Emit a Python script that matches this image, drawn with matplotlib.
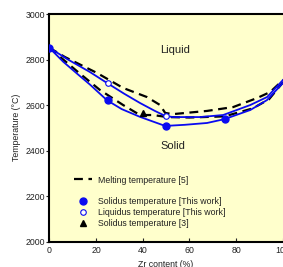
import numpy as np
import matplotlib
matplotlib.use("Agg")
import matplotlib.pyplot as plt
from matplotlib.lines import Line2D

plt.rcParams["font.family"] = ["Liberation Sans", "DejaVu Sans"]

# measured points
sol_x = [0, 25, 50, 75]
sol_t = [2852, 2621, 2508, 2540]
liq_x = [25, 50]
liq_t = [2698, 2550]
ref3_x = [40]
ref3_t = [2565]

# curves through this work data
liq_curve_x = [0, 8, 17.4, 24.7, 32, 38.8, 45, 49.6, 53, 64.5, 74.4, 86, 93.2, 100]
liq_curve_t = [2852, 2800, 2745, 2697, 2650, 2609, 2575, 2552, 2547, 2547, 2556, 2600, 2635, 2710]
sol_curve_x = [0, 6, 12, 17.4, 24.7, 31, 38.8, 43.1, 49.6, 58, 67.5, 75, 86, 93.2, 100]
sol_curve_t = [2852, 2790, 2737, 2690, 2621, 2582, 2548, 2532, 2508, 2513, 2521, 2538, 2578, 2622, 2697]

# melting temperature [5]
melt_up_x = [0, 6.7, 20.4, 31.6, 41.8, 47.4, 49.6, 53, 67.5, 78.7, 89, 94.5, 100]
melt_up_t = [2852, 2811, 2741, 2675, 2635, 2600, 2565, 2560, 2574, 2591, 2631, 2657, 2710]
melt_lo_x = [0, 12.3, 21.7, 31.6, 38.8, 44.4, 50.4, 60, 75, 87, 94, 100]
melt_lo_t = [2852, 2745, 2666, 2600, 2556, 2556, 2547, 2545, 2550, 2585, 2625, 2700]

blue = "#0a0af0"
txt = "#222222"

fig = plt.figure(figsize=(2.83, 2.67), dpi=100)
ax = fig.add_axes([0.174, 0.0955, 0.826, 0.852])
ax.set_facecolor("#ffffcc")

dash = (0, (4, 2.5))
ax.plot(melt_up_x, melt_up_t, color="black", lw=1.6, linestyle=dash)
ax.plot(melt_lo_x, melt_lo_t, color="black", lw=1.6, linestyle=dash)
ax.plot(liq_curve_x, liq_curve_t, color=blue, lw=1.3)
ax.plot(sol_curve_x, sol_curve_t, color=blue, lw=1.3)

ax.plot(sol_x, sol_t, "o", color=blue, ms=5, zorder=5)
ax.plot(liq_x, liq_t, "o", mfc="white", mec=blue, mew=0.8, ms=4, zorder=5)
ax.plot(ref3_x, ref3_t, "^", color="black", ms=5, zorder=5)

ax.text(54, 2840, "Liquid", fontsize=8, ha="center", va="center", color=txt)
ax.text(53, 2420, "Solid", fontsize=8, ha="center", va="center", color=txt)

handles = [
    Line2D([], [], color="black", lw=1.6, linestyle=dash),
    Line2D([], [], linestyle="none"),
    Line2D([], [], marker="o", color=blue, linestyle="none", ms=5),
    Line2D([], [], marker="o", mfc="white", mec=blue, mew=0.8, linestyle="none", ms=4),
    Line2D([], [], marker="^", color="black", linestyle="none", ms=5),
]
labels = ["Melting temperature [5]", " ",
          "Solidus temperature [This work]",
          "Liquidus temperature [This work]",
          "Solidus temperature [3]"]
leg = ax.legend(handles, labels, loc="upper left", bbox_to_anchor=(0.106, 0.29),
                frameon=False, fontsize=6.3, handlelength=2.0, handletextpad=0.7,
                labelspacing=0.22, borderpad=0, borderaxespad=0)
for t in leg.get_texts():
    t.set_color(txt)

ax.set_xlim(0, 100)
ax.set_ylim(2000, 3000)
ax.set_xticks([0, 20, 40, 60, 80, 100])
ax.set_yticks([2000, 2200, 2400, 2600, 2800, 3000])
ax.tick_params(axis="x", direction="in", length=3, labelsize=6.3, pad=3, colors=txt)
ax.tick_params(axis="y", direction="out", length=2, labelsize=6.3, pad=1, colors=txt)
for s in ["left", "bottom", "top"]:
    ax.spines[s].set_linewidth(1.5)
ax.spines["right"].set_visible(False)

ax.set_xlabel("Zr content (%)", fontsize=6.3, labelpad=4, color=txt)
ax.set_ylabel("Temperature (\u00b0C)", fontsize=6.3, labelpad=3, color=txt)

fig.savefig("out.png", dpi=100)
